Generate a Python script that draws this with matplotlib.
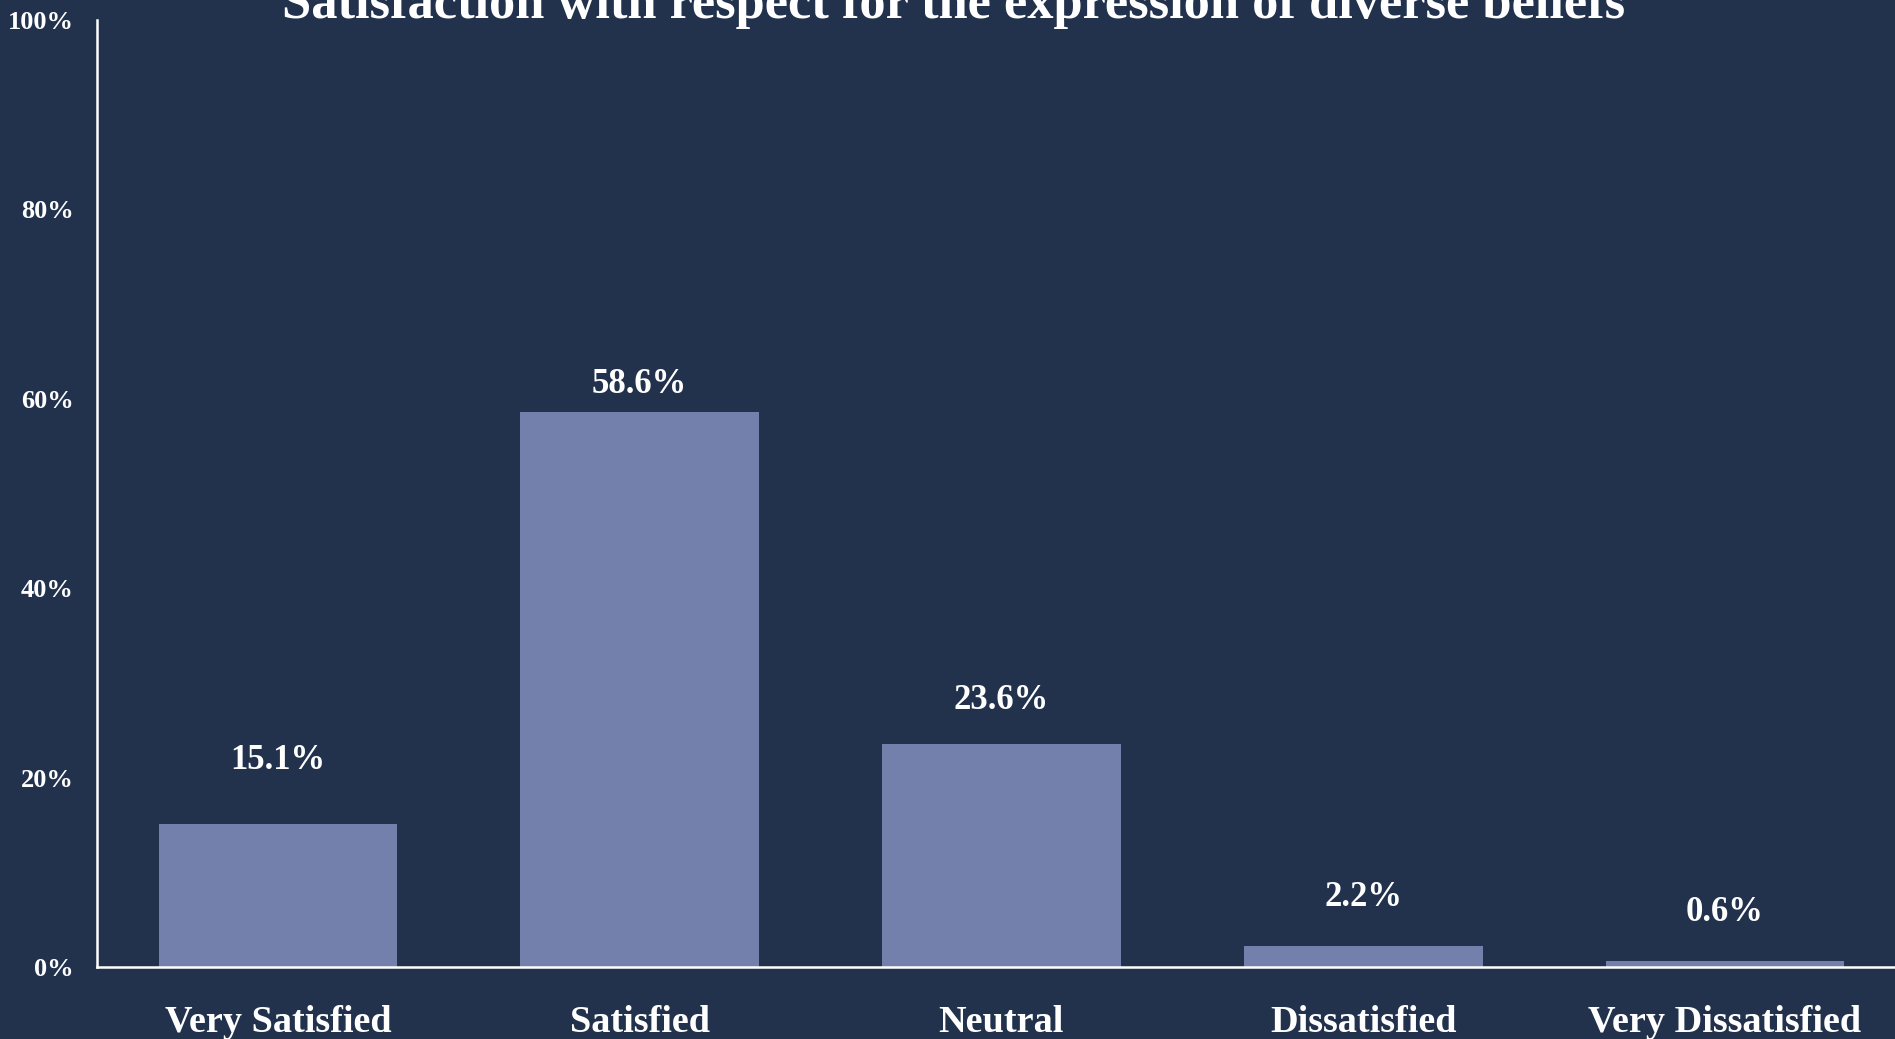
import matplotlib.pyplot as plt

# Data
categories = ["Very Satisfied", "Satisfied", "Neutral", "Dissatisfied", "Very Dissatisfied"]
values = [15.1, 58.6, 23.6, 2.2, 0.6]
yticks = [0, 20, 40, 60, 80, 100]
title = "Satisfaction with respect for the expression of diverse beliefs"

BG = "#22324d"
BAR = "#7480ac"
SERIF = ["Liberation Serif", "DejaVu Serif"]

plt.rcParams['font.family'] = SERIF

fig = plt.figure(figsize=(18.95, 10.39), dpi=100, facecolor=BG)
ax = fig.add_axes([97 / 1895, 72 / 1039, 1 - 97 / 1895, 947 / 1039])
ax.set_facecolor(BG)

x = range(len(categories))
ax.bar(x, values, width=0.66, color=BAR)

# value labels (offsets in points)
label_pad = [46, 20, 31, 35, 35]
for i, v in enumerate(values):
    ax.annotate(f"{v:.1f}%", (i, v), xytext=(0, label_pad[i]), textcoords="offset points",
                ha="center", va="center", color="white", fontsize=25, fontweight="bold")

ax.set_xlim(-0.5, len(categories) - 0.53)
ax.set_ylim(0, 100)
ax.set_yticks(yticks)
ax.set_yticklabels([f"{t}%" for t in yticks], fontsize=19, fontweight="bold", color="white")
ax.set_xticks(list(x))
ax.set_xticklabels(categories, fontsize=27.5, fontweight="bold", color="white")
ax.tick_params(axis="y", length=0, pad=17)
ax.tick_params(axis="x", length=0, pad=27)

for s in ["top", "right"]:
    ax.spines[s].set_visible(False)
for s in ["left", "bottom"]:
    ax.spines[s].set_color("white")
    ax.spines[s].set_linewidth(1.8)

fig.text(0.503, 1.018, title, ha="center", va="top", color="white",
         fontsize=37.8, fontweight="bold")

fig.savefig("out.png", dpi=100, facecolor=BG)
